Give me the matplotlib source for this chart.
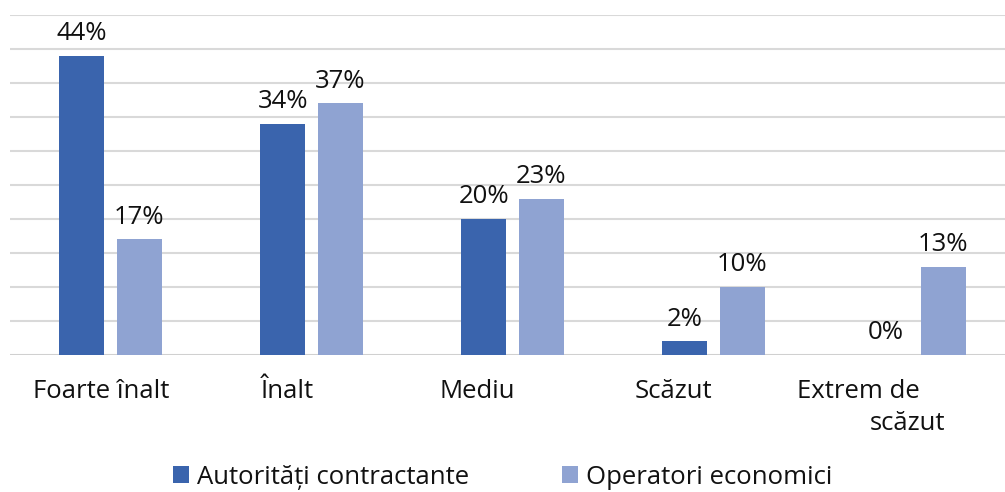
import matplotlib.pyplot as plt
import numpy as np

plt.rcParams['font.family'] = ['Open Sans', 'DejaVu Sans']

categories = ['Foarte înalt', 'Înalt', 'Mediu', 'Scăzut', 'Extrem de\nscăzut']
autoritati = [44, 34, 20, 2, 0]
operatori = [17, 37, 23, 10, 13]
series_names = ['Autorități contractante', 'Operatori economici']

dark = '#3A64AD'
light = '#8FA3D2'
fs = 18.5

fig = plt.figure(figsize=(10.05, 4.92), dpi=100)
ax = fig.add_axes([10 / 1005, 1 - 355 / 492, 1 - 10 / 1005, (355 - 15) / 492])

x = np.arange(len(categories))
w = 0.224
off = 0.143
b1 = ax.bar(x - off, autoritati, w, color=dark, label=series_names[0], zorder=3)
b2 = ax.bar(x + off, operatori, w, color=light, label=series_names[1], zorder=3)

for bars, vals in [(b1, autoritati), (b2, operatori)]:
    for r, v in zip(bars, vals):
        ax.annotate(f'{v}%', (r.get_x() + r.get_width() / 2, r.get_height()),
                    xytext=(0, 7), textcoords='offset points',
                    ha='center', va='bottom', fontsize=fs, color='#111111')

ax.set_xlim(-0.5, 4.45)
ax.set_ylim(0, 50)
ax.set_yticks(np.arange(0, 51, 5))
ax.yaxis.grid(True, color='#D9D9D9', linewidth=1.5, zorder=0)
ax.set_axisbelow(True)
ax.tick_params(left=False, labelleft=False, bottom=False, labelbottom=False)
for s in ax.spines.values():
    s.set_visible(False)
ax.axhline(0, color='#D0D0D0', linewidth=2, zorder=2)

# category labels (Excel places them slightly left of the groups)
label_dx = [-0.045, -0.12, -0.175, -0.2]
for i, lab in enumerate(categories[:4]):
    ax.text(i + label_dx[i], -5.3, lab, ha='center', va='center',
            fontsize=fs, color='#111111', clip_on=False)
line1, line2 = categories[4].split('\n')
ax.text(4 - 0.28, -5.3, line1, ha='center', va='center', fontsize=fs,
        color='#111111', clip_on=False)
ax.text(4 - 0.035, -10.0, line2, ha='center', va='center', fontsize=fs,
        color='#111111', clip_on=False)

fig.legend(handles=[b1, b2], loc='center', bbox_to_anchor=(0.5, 1 - 477 / 492),
           ncol=2, frameon=False, fontsize=fs, handlelength=0.65,
           handleheight=0.65, handletextpad=0.3, columnspacing=3.6,
           labelcolor='#111111')

fig.savefig('out.png', dpi=100)
